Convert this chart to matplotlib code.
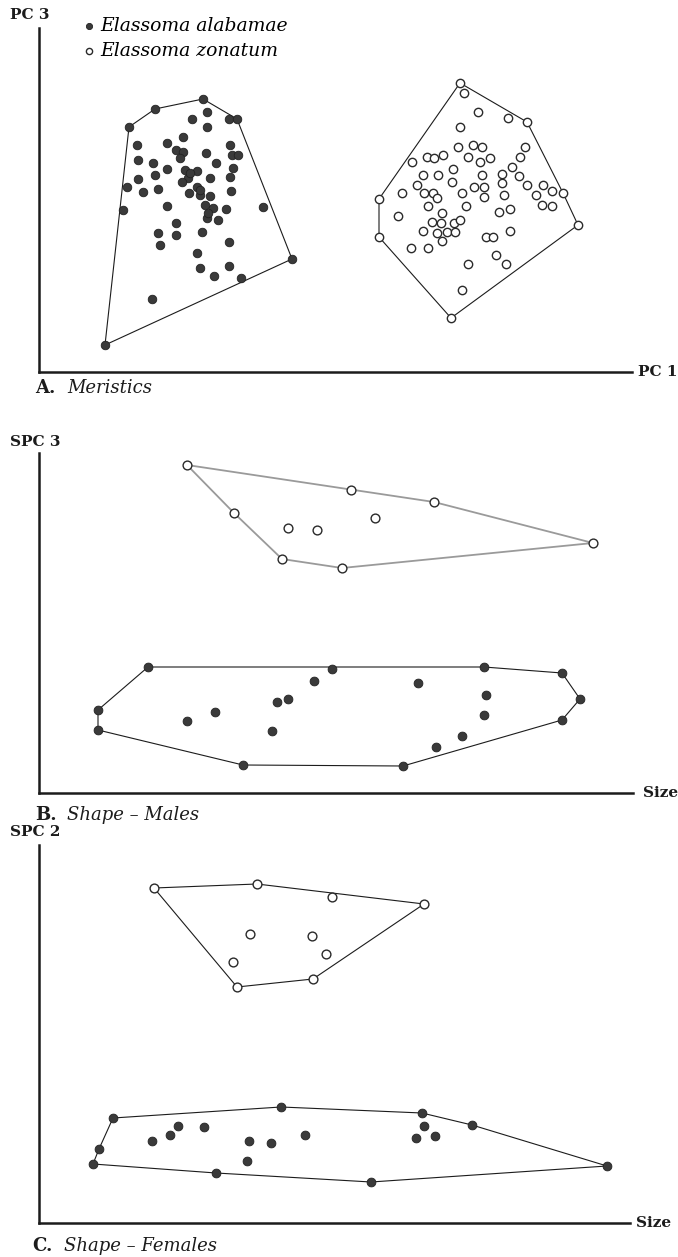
import numpy as np
import matplotlib
matplotlib.use('Agg')
import matplotlib.pyplot as plt

plt.rcParams['font.family'] = ['DejaVu Serif']

# A. Meristics (PC 1 vs PC 3), arbitrary score units
a_alab_x = [66, 90, 116, 164, 190, 198, 253, 202, 84, 88, 168, 153, 168, 144, 128, 98, 137, 144,
            141, 167, 191, 193, 199, 99, 114, 177, 194, 116, 128, 146, 158, 149, 143, 171, 191,
            99, 104, 119, 158, 150, 161, 171, 192, 166, 174, 128, 187, 224, 168, 179, 137, 119,
            137, 163, 121, 190, 158, 161, 190, 175, 113, 161, 169, 151]
a_alab_y = [27, 245, 263, 273, 253, 253, 113, 94, 162, 185, 260, 253, 245, 235, 229, 227, 222, 220,
            214, 219, 227, 217, 217, 212, 209, 209, 204, 197, 203, 202, 201, 194, 190, 194, 195,
            193, 180, 183, 185, 179, 177, 176, 181, 167, 164, 166, 163, 165, 154, 152, 149, 139,
            137, 140, 127, 130, 119, 104, 106, 96, 73, 182, 159, 199]
a_zon_x = [421, 425, 439, 469, 488, 421, 486, 419, 434, 443, 388, 395, 404, 429, 441, 451, 481,
           373, 414, 473, 384, 399, 443, 463, 480, 413, 463, 378, 435, 445, 488, 504, 513, 524,
           363, 385, 394, 423, 465, 445, 497, 398, 389, 427, 503, 513, 460, 471, 359, 403, 393,
           402, 415, 421, 384, 398, 408, 416, 471, 403, 447, 454, 372, 389, 457, 467, 429, 423,
           539, 412, 340, 340]
a_zon_y = [289, 279, 260, 254, 250, 245, 225, 225, 227, 225, 215, 214, 217, 215, 210, 214, 215,
           210, 203, 205, 197, 197, 197, 198, 196, 190, 189, 187, 185, 185, 187, 187, 181, 179,
           179, 179, 179, 179, 177, 175, 177, 174, 166, 166, 167, 166, 160, 163, 156, 159, 150,
           149, 149, 152, 141, 139, 140, 140, 141, 131, 135, 135, 124, 124, 117, 108, 108, 82,
           147, 54, 135, 173]

# B. Shape - Males (Size vs SPC 3)
b_zon_x = [148, 312, 395, 554, 195, 249, 278, 336, 243, 303]
b_zon_y = [328, 303, 291, 250, 280, 265, 263, 275, 234, 225]
b_alab_x = [109, 293, 445, 523, 541, 523, 364, 204, 59, 59, 275, 379, 249, 238, 176, 148, 233,
            447, 445, 423, 397]
b_alab_y = [126, 124, 126, 120, 94, 73, 27, 28, 63, 83, 112, 110, 94, 91, 81, 72, 62, 98, 78,
            57, 46]

# C. Shape - Females (Size vs SPC 2)
c_zon_x = [115, 218, 293, 385, 274, 198, 211, 273, 287, 194]
c_zon_y = [335, 339, 326, 319, 244, 236, 289, 287, 269, 261]
c_alab_x = [74, 242, 383, 433, 568, 332, 177, 54, 60, 113, 131, 139, 165, 210, 232, 208, 266,
            385, 377, 396]
c_alab_y = [105, 116, 110, 98, 57, 41, 50, 59, 74, 82, 88, 97, 96, 82, 80, 62, 88, 97, 85, 87]

W, H = 678, 1257
INK = '#1c1c1c'
DOT = '#3a3a3a'


def hull(xs, ys):
    """convex hull (monotone chain), closed"""
    pts = sorted(set(zip(xs, ys)))

    def cross(o, a, b):
        return (a[0] - o[0]) * (b[1] - o[1]) - (a[1] - o[1]) * (b[0] - o[0])

    lower, upper = [], []
    for p in pts:
        while len(lower) >= 2 and cross(lower[-2], lower[-1], p) <= 0:
            lower.pop()
        lower.append(p)
    for p in reversed(pts):
        while len(upper) >= 2 and cross(upper[-2], upper[-1], p) <= 0:
            upper.pop()
        upper.append(p)
    ring = lower[:-1] + upper
    return [p[0] for p in ring], [p[1] for p in ring]


def fx(x):
    return x / W


def fy(y):
    return 1 - y / H


def panel(left, right, top, bottom, xmax, ymax):
    ax = fig.add_axes([fx(left), fy(bottom), (right - left) / W, (bottom - top) / H])
    ax.set_xlim(0, xmax)
    ax.set_ylim(0, ymax)
    ax.set_xticks([])
    ax.set_yticks([])
    for s in ['top', 'right']:
        ax.spines[s].set_visible(False)
    for s in ['left', 'bottom']:
        ax.spines[s].set_linewidth(1.8)
        ax.spines[s].set_color(INK)
    ax.patch.set_alpha(0)
    return ax


def group(ax, xs, ys, filled, size=34, hull_color=INK, hull_lw=0.8):
    hx, hy = hull(xs, ys)
    ax.plot(hx, hy, color=hull_color, lw=hull_lw, zorder=1, clip_on=False)
    if filled:
        ax.scatter(xs, ys, s=size, c=DOT, edgecolors='#222222', linewidths=0.6,
                   zorder=3, clip_on=False)
    else:
        ax.scatter(xs, ys, s=size, c='white', edgecolors='#2a2a2a', linewidths=1.0,
                   zorder=3, clip_on=False)


def bold(x, y, s):
    fig.text(fx(x), fy(y), s, fontsize=11, fontweight='bold', ha='left', va='center',
             color=INK)


def caption(x, y, letter, word):
    fig.text(fx(x), fy(y), letter, fontsize=13, fontweight='bold', ha='left',
             va='center', color=INK)
    fig.text(fx(x + 32), fy(y), word, fontsize=13, style='italic', ha='left',
             va='center', color=INK)


fig = plt.figure(figsize=(W / 100, H / 100), dpi=100)
fig.patch.set_facecolor('white')

# A
ax = panel(39, 632, 28, 372, 593, 344)
group(ax, a_alab_x, a_alab_y, True, size=38)
group(ax, a_zon_x, a_zon_y, False, size=36)
h1 = ax.scatter([], [], s=20, c=DOT, edgecolors='#222222', linewidths=0.6)
h2 = ax.scatter([], [], s=20, c='white', edgecolors='#2a2a2a', linewidths=1.0)
fig.legend([h1, h2], ['Elassoma alabamae', 'Elassoma zonatum'],
           loc='upper left', bbox_to_anchor=(fx(83), fy(17)), frameon=False,
           prop={'style': 'italic', 'size': 13.5}, handlelength=0.6,
           handletextpad=0.3, labelspacing=0.38, borderpad=0, borderaxespad=0)
bold(10, 15, 'PC 3')
bold(638, 372, 'PC 1')
caption(35, 388, 'A.', 'Meristics')

# B
ax = panel(39, 633, 453, 793, 594, 340)
group(ax, b_zon_x, b_zon_y, False, size=40, hull_color='#9a9a9a', hull_lw=1.3)
group(ax, b_alab_x, b_alab_y, True, size=40)
bold(10, 442, 'SPC 3')
bold(643, 793, 'Size')
caption(35, 815, 'B.', 'Shape \u2013 Males')

# C
ax = panel(39, 630, 845, 1223, 591, 378)
group(ax, c_zon_x, c_zon_y, False, size=40)
group(ax, c_alab_x, c_alab_y, True, size=40)
bold(10, 832, 'SPC 2')
bold(636, 1223, 'Size')
caption(32, 1246, 'C.', 'Shape \u2013 Females')

fig.savefig('out.png', dpi=100, facecolor='white')
